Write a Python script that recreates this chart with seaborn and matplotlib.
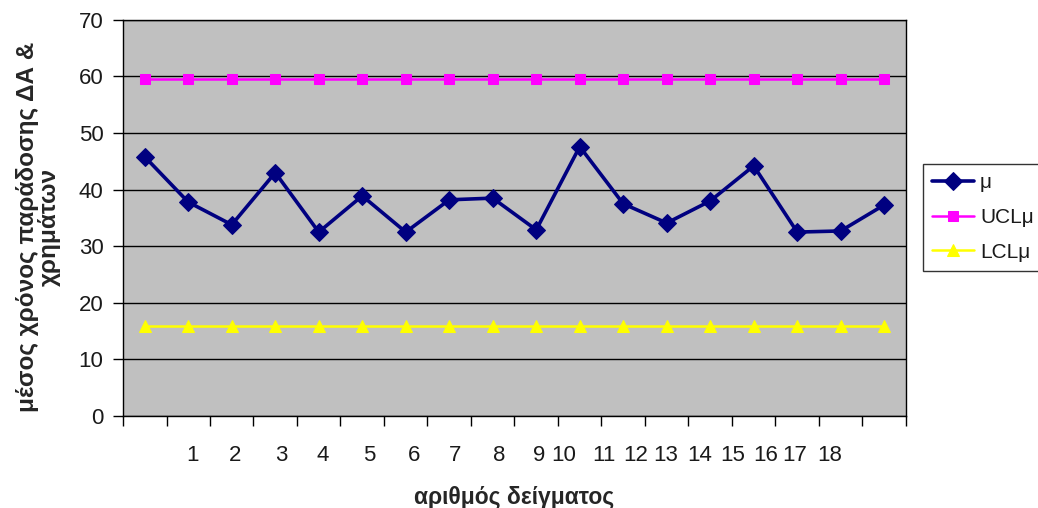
import matplotlib
matplotlib.use("Agg")
import matplotlib.pyplot as plt
import seaborn as sns
import pandas as pd
import numpy as np

# sample means and control limits
samples = list(range(1, 19))
mean_values = [45.8, 37.8, 33.8, 43.0, 32.5, 38.9, 32.5, 38.2, 38.5,
               32.9, 47.6, 37.5, 34.1, 38.0, 44.2, 32.5, 32.7, 37.3]
ucl_values = [59.6] * 18
lcl_values = [15.9] * 18
tick_labels = [str(s) for s in samples]

sns.set_theme(style="white")
plt.rcParams['font.family'] = ['Liberation Sans', 'DejaVu Sans']

df = pd.DataFrame({
    "pos": np.arange(len(samples)),
    "μ": mean_values,
    "UCLμ": ucl_values,
    "LCLμ": lcl_values,
})

fig = plt.figure(figsize=(10.38, 5.08), dpi=100)
ax = fig.add_axes([0.1185, 0.181, 0.7543, 0.780])
ax.set_facecolor("#C0C0C0")

sns.lineplot(data=df, x="pos", y="μ", ax=ax, color="#000080", lw=2.6,
             marker="D", markersize=9, markeredgecolor="#000080", label="μ")
sns.lineplot(data=df, x="pos", y="UCLμ", ax=ax, color="#FF00FF", lw=1.8,
             marker="s", markersize=7, markeredgecolor="#FF00FF", label="UCLμ")
sns.lineplot(data=df, x="pos", y="LCLμ", ax=ax, color="#FFFF00", lw=1.8,
             marker="^", markersize=8, markeredgecolor="#FFFF00", label="LCLμ")

ax.set_xlim(-0.5, len(samples) - 0.5)
ax.set_ylim(0, 70)
ax.set_yticks(range(0, 71, 10))
ax.yaxis.grid(True, color="black", lw=1)
ax.set_axisbelow(True)

# category boundary ticks, with the sample numbers placed as unticked labels
ax.set_xticks(np.arange(-0.5, len(samples), 1.0))
ax.set_xticklabels([])
label_pos = [1.09, 2.08, 3.14, 4.09, 5.15, 6.18, 7.13, 8.14, 9.06,
             9.64, 10.56, 11.28, 11.97, 12.75, 13.51, 14.27, 14.94, 15.75]
ax.set_xticks(label_pos, minor=True)
ax.set_xticklabels(tick_labels, minor=True)
ax.tick_params(axis="x", which="major", direction="out", length=7, width=1,
               color="black", bottom=True)
ax.tick_params(axis="x", which="minor", length=0, pad=21, labelsize=16,
               labelcolor="#1a1a1a")
ax.tick_params(axis="y", direction="out", length=7, width=1, color="black",
               left=True, labelsize=16, labelcolor="#1a1a1a", pad=7)

for side in ["left", "bottom", "top", "right"]:
    ax.spines[side].set_color("black")
    ax.spines[side].set_linewidth(1)

ax.set_xlabel("αριθμός δείγματος", fontsize=16.5, fontweight="bold", labelpad=14)
ax.set_ylabel("μέσος χρόνος παράδοσης ΔΑ &\nχρημάτων", fontsize=17.5,
              fontweight="bold", linespacing=0.9)
ax.yaxis.set_label_coords(-0.080, 0.477)

leg = ax.legend(loc="upper left", bbox_to_anchor=(0.889, 0.677),
                bbox_transform=fig.transFigure, frameon=True, fancybox=False,
                fontsize=15, handlelength=2.0, borderpad=0.45, labelspacing=0.75,
                handletextpad=0.3, borderaxespad=0)
leg.get_frame().set_edgecolor("black")
leg.get_frame().set_linewidth(1)
leg.get_frame().set_facecolor("white")
for t in leg.get_texts():
    t.set_color("#1a1a1a")

fig.savefig("out.png", dpi=100, facecolor="white")
